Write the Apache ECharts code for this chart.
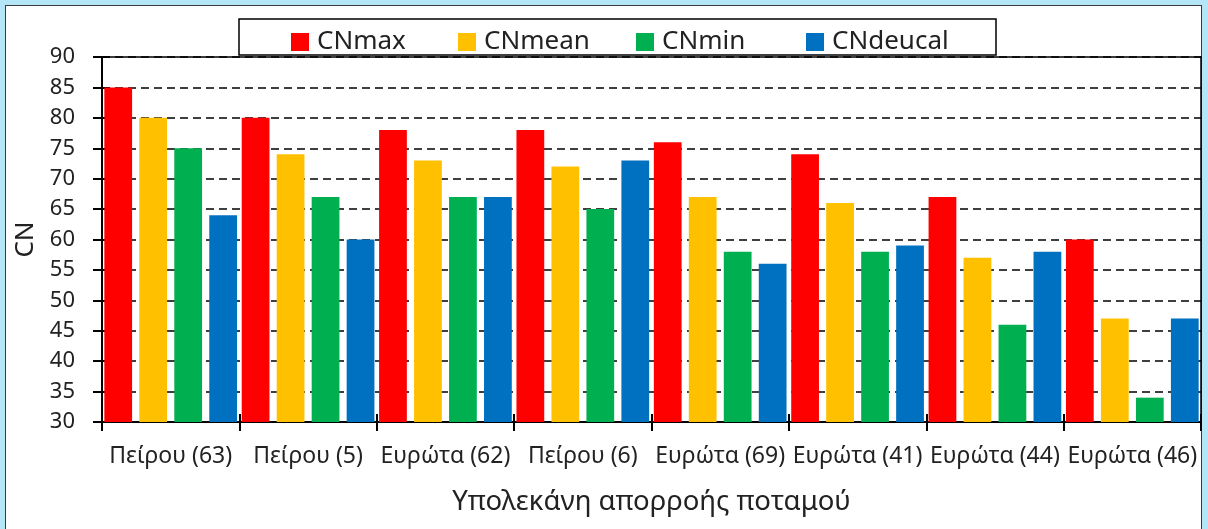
<!DOCTYPE html>
<html>
<head>
<meta charset="utf-8">
<script src="https://cdn.jsdelivr.net/npm/echarts@6/dist/echarts.min.js"></script>
<style>
  html, body { margin: 0; padding: 0; background: #b4e6f8; width: 1208px; height: 529px; overflow: hidden; }
  #card { position: absolute; left: 5px; top: 5px; width: 1197px; height: 600px; background: #fff; border: 1.5px solid #3a3a3a; box-sizing: border-box; }
  #chart { position: absolute; left: 0; top: 0; width: 1208px; height: 529px; }
</style>
</head>
<body>
<div id="card"></div>
<div id="chart"></div>
<script>
// Sub-basins and curve number estimates
const categories = ['Πείρου (63)', 'Πείρου (5)', 'Ευρώτα (62)', 'Πείρου (6)', 'Ευρώτα (69)', 'Ευρώτα (41)', 'Ευρώτα (44)', 'Ευρώτα (46)'];
const cnMax    = [85, 80, 78, 78, 76, 74, 67, 60];
const cnMean   = [80, 74, 73, 72, 67, 66, 57, 47];
const cnMin    = [75, 67, 67, 65, 58, 58, 46, 34];
const cnDeucal = [64, 60, 67, 73, 56, 59, 58, 47];
const seriesNames = ['CNmax', 'CNmean', 'CNmin', 'CNdeucal'];
const seriesColors = ['#ff0000', '#ffc000', '#00b050', '#0070c0'];

const FONT = '"Noto Sans", "Open Sans", sans-serif';
const TEXT = '#222';

const chart = echarts.init(document.getElementById('chart'), null, { renderer: 'canvas' });

const valueAxisBase = { type: 'value', min: 30, max: 90, interval: 5 };

// one legend entry per slot inside the framed legend box
const legendSlots = [286, 453, 631, 801];

const option = {
  animation: false,
  backgroundColor: 'transparent',
  graphic: [{
    type: 'rect',
    shape: { x: 239, y: 19, width: 757, height: 36 },
    style: { fill: '#fff', stroke: '#000', lineWidth: 1.5 },
    z: 0
  }],
  legend: seriesNames.map((name, i) => ({
    left: legendSlots[i], top: 24,
    itemWidth: 18, itemHeight: 18,
    icon: 'rect',
    data: [name],
    textStyle: { fontFamily: FONT, fontSize: 26, color: TEXT, padding: [0, 0, 0, 3] }
  })),
  grid: {
    left: 102, top: 57, right: 7, bottom: 107,
    show: true, borderColor: '#000', borderWidth: 1.5, backgroundColor: 'transparent'
  },
  xAxis: [{
    type: 'category', data: categories, position: 'bottom',
    axisLine: { lineStyle: { color: '#000', width: 2 } },
    axisTick: { show: true, length: 9, lineStyle: { color: '#000', width: 2 } },
    axisLabel: { fontFamily: FONT, fontSize: 23, color: TEXT, margin: 23, interval: 0 },
    name: 'Υπολεκάνη απορροής ποταμού', nameLocation: 'middle', nameGap: 66,
    nameTextStyle: { fontFamily: FONT, fontSize: 27.5, color: TEXT }
  }, {
    type: 'category', data: categories, position: 'bottom',
    axisLine: { show: true, lineStyle: { color: '#000', width: 2 } },
    axisTick: { show: true, inside: true, length: 8, lineStyle: { color: '#000', width: 2 } },
    axisLabel: { show: false }
  }],
  yAxis: [Object.assign({}, valueAxisBase, {
    axisLine: { show: true, lineStyle: { color: '#000', width: 2 } },
    axisTick: { show: true, length: 9, lineStyle: { color: '#000', width: 2 } },
    axisLabel: { fontFamily: FONT, fontSize: 22, color: TEXT, margin: 27 },
    splitLine: { show: true, lineStyle: { color: '#000', width: 1.5, type: [8, 5] } },
    name: 'CN', nameLocation: 'middle', nameGap: 51,
    nameTextStyle: { fontFamily: FONT, fontSize: 26, color: TEXT }
  }), Object.assign({}, valueAxisBase, {
    position: 'left',
    axisLine: { show: true, lineStyle: { color: '#000', width: 2 } },
    axisTick: { show: true, inside: true, length: 8, lineStyle: { color: '#000', width: 2 } },
    axisLabel: { show: false },
    splitLine: { show: false }
  })],
  series: [cnMax, cnMean, cnMin, cnDeucal].map((values, i) => ({
    name: seriesNames[i],
    type: 'bar',
    xAxisIndex: 0, yAxisIndex: 0,
    data: values,
    barGap: '26%',
    barCategoryGap: '3.4%',
    itemStyle: { color: seriesColors[i] },
    z: 3
  }))
};

chart.setOption(option);
</script>
</body>
</html>
